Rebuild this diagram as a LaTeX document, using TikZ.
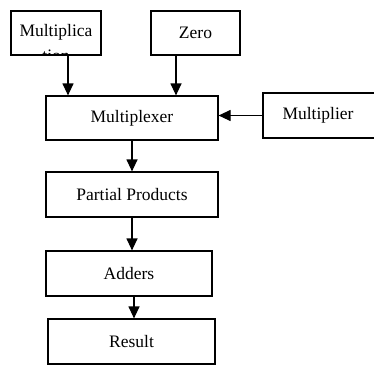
\documentclass[tikz,border=0pt]{standalone}
\usepackage{fontspec}
\setmainfont{Liberation Serif}
\usetikzlibrary{arrows.meta}

\begin{document}
\begin{tikzpicture}[x=1pt,y=-1pt,
  blk/.style={draw,line width=1.2pt,inner sep=0pt,minimum height=44pt,
    font=\fontsize{17.5}{21}\selectfont},
  arr/.style={line width=1.2pt,-{Triangle[length=12pt,width=11pt]}}]
\useasboundingbox (0,0) rectangle (374,365);
%% nodes
\node[blk,minimum width=90pt,path picture={
  \node[align=center,font=\fontsize{17.5}{25}\selectfont,anchor=base]
    at ([yshift=-28pt]path picture bounding box.center) {Multiplica\\tion};}]
  (mcand) at (56,33) {};
\node[blk,minimum width=89pt] (zero) at (195.5,33) {Zero};
\node[blk,minimum width=172pt] (mux) at (132,118) {Multiplexer};
\node[blk,minimum width=118pt,minimum height=45pt] (mplier) at (322,115.5) {\hspace*{-8pt}Multiplier};
\node[blk,minimum width=172pt,minimum height=45pt] (pp) at (132,194.5) {Partial Products};
\node[blk,minimum width=166pt,minimum height=45pt] (add) at (129,273.5) {Adders};
\node[blk,minimum width=167pt,minimum height=45pt] (res) at (131.5,341.5) {Result};
%%% edges
\draw[arr] ([xshift=12pt]mcand.south) -- ([xshift=12pt]mcand.south |- mux.north);
\draw[arr] ([xshift=-19.5pt]zero.south) -- ([xshift=-19.5pt]zero.south |- mux.north);
\draw[arr] (mplier.west) -- (mplier.west -| mux.east);
\draw[arr] (mux.south) -- (pp.north);
\draw[arr] (pp.south) -- (pp.south |- add.north);
\draw[arr] ([xshift=5pt]add.south) -- ([xshift=5pt]add.south |- res.north);
\end{tikzpicture}
\end{document}
